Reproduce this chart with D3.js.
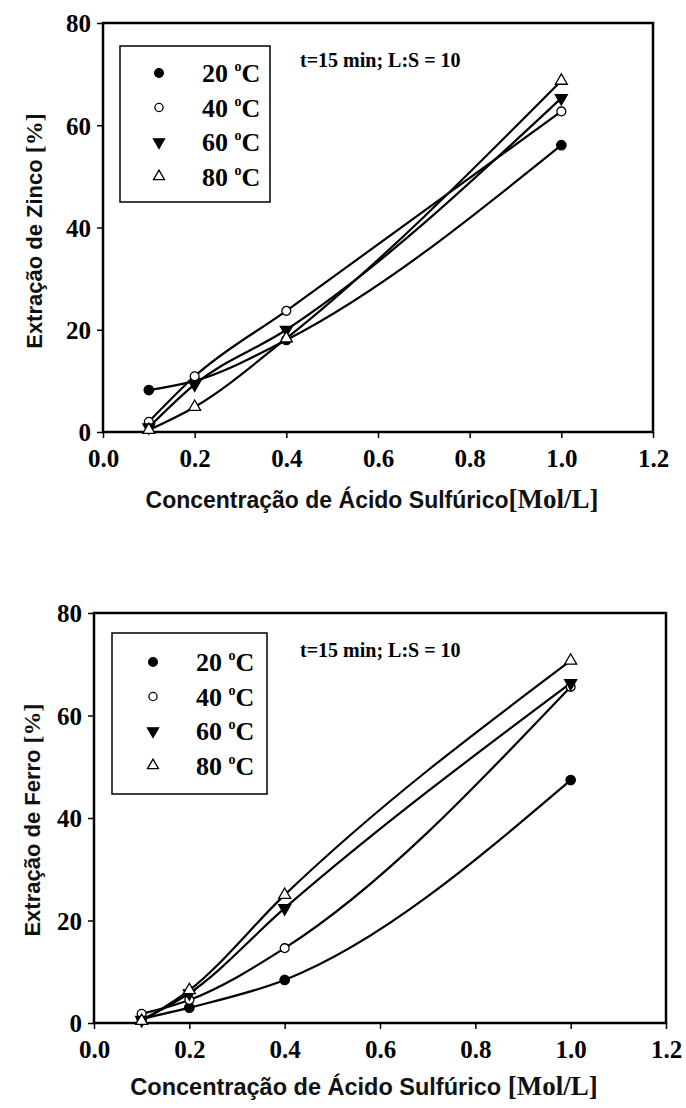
<!DOCTYPE html>
<html>
<head>
<meta charset="utf-8">
<script src="https://cdn.jsdelivr.net/npm/d3@7"></script>
<style>
  body { margin: 0; background: #fff; }
  svg { display: block; }
</style>
</head>
<body>
<script>
// concentration of sulfuric acid (Mol/L)
var concentracao = [0.1, 0.2, 0.4, 1.0];
var temperaturas = ["20", "40", "60", "80"];

// zinc extraction [%]
var zinco20 = [8.2, 10.0, 18.0, 56.1];
var zinco40 = [2.0, 10.9, 23.7, 62.7];
var zinco60 = [0.9, 9.3, 20.0, 65.3];
var zinco80 = [0.4, 4.9, 18.3, 68.7];

// iron extraction [%]
var ferro20 = [0.8, 3.0, 8.4, 47.4];
var ferro40 = [1.8, 4.5, 14.6, 65.6];
var ferro60 = [0.6, 5.8, 22.4, 66.3];
var ferro80 = [0.4, 6.4, 25.0, 70.7];

var xTicks = [0.0, 0.2, 0.4, 0.6, 0.8, 1.0, 1.2];
var yTicks = [0, 20, 40, 60, 80];
var nota = "t=15 min; L:S = 10";

var W = 686, H = 1108;
var serif = "'Liberation Serif', 'Times New Roman', serif";
var sans = "'Liberation Sans', Arial, sans-serif";

var svg = d3.select("body").append("svg")
    .attr("width", W)
    .attr("height", H);

svg.append("rect").attr("width", W).attr("height", H).attr("fill", "#fff");

// one symbol per temperature
var markers = [
    { type: d3.symbolCircle, size: 70, fill: "#000", rot: 0 },
    { type: d3.symbolCircle, size: 62, fill: "#fff", rot: 0 },
    { type: d3.symbolTriangle, size: 62, fill: "#000", rot: 180 },
    { type: d3.symbolTriangle, size: 62, fill: "#fff", rot: 0 }
];

function drawPanel(p) {
    var g = svg.append("g");

    var x = d3.scaleLinear().domain([0, 1.2]).range([p.left, p.right]);
    var y = d3.scaleLinear().domain([0, 80]).range([p.bottom, p.top]);

    // frame
    g.append("rect")
        .attr("x", p.left).attr("y", p.top)
        .attr("width", p.right - p.left).attr("height", p.bottom - p.top)
        .attr("fill", "none").attr("stroke", "#000").attr("stroke-width", 2.5);

    var xAxis = g.append("g")
        .attr("transform", "translate(0," + p.bottom + ")")
        .call(d3.axisBottom(x).tickValues(xTicks).tickFormat(d3.format(".1f")).tickSize(6).tickPadding(8));
    var yAxis = g.append("g")
        .attr("transform", "translate(" + p.left + ",0)")
        .call(d3.axisLeft(y).tickValues(yTicks).tickSize(6).tickPadding(6));

    [xAxis, yAxis].forEach(function(a) {
        a.select(".domain").remove();
        a.selectAll("line").attr("stroke", "#000").attr("stroke-width", 1.5);
        a.selectAll("text")
            .attr("fill", "#000")
            .style("font-family", serif)
            .style("font-weight", "bold")
            .style("font-size", "25px");
    });
    xAxis.selectAll("text").attr("dy", "0.82em");
    yAxis.selectAll("text").attr("dy", "0.35em");

    // series
    var line = d3.line()
        .x(function(d) { return x(d[0]); })
        .y(function(d) { return y(d[1]); })
        .curve(d3.curveMonotoneX);

    p.series.forEach(function(vals, i) {
        var pts = concentracao.map(function(c, j) { return [c, vals[j]]; });
        g.append("path")
            .datum(pts)
            .attr("d", line)
            .attr("fill", "none")
            .attr("stroke", "#000")
            .attr("stroke-width", 2.2);
    });

    p.series.forEach(function(vals, i) {
        var m = markers[i];
        var pts = concentracao.map(function(c, j) { return [c, vals[j]]; });
        g.selectAll(null)
            .data(pts)
            .enter()
            .append("path")
            .attr("d", d3.symbol().type(m.type).size(m.size))
            .attr("transform", function(d) {
                return "translate(" + x(d[0]) + "," + y(d[1]) + ") rotate(" + m.rot + ")";
            })
            .attr("fill", m.fill)
            .attr("stroke", "#000")
            .attr("stroke-width", 1.3);
    });

    // legend
    var L = p.legend;
    g.append("rect")
        .attr("x", L.x).attr("y", L.y).attr("width", L.w).attr("height", L.h)
        .attr("fill", "#fff").attr("stroke", "#000").attr("stroke-width", 1.5);

    temperaturas.forEach(function(t, i) {
        var m = markers[i];
        var ry = L.y + L.row0 + i * L.step;
        g.append("path")
            .attr("d", d3.symbol().type(m.type).size(m.size * 0.85))
            .attr("transform", "translate(" + L.mx + "," + ry + ") rotate(" + m.rot + ")")
            .attr("fill", m.fill)
            .attr("stroke", "#000")
            .attr("stroke-width", 1.3);
        var txt = g.append("text")
            .attr("x", L.tx).attr("y", ry + 9)
            .style("font-family", serif)
            .style("font-weight", "bold")
            .style("font-size", "26px");
        txt.append("tspan").text(t + " ");
        txt.append("tspan").attr("dy", -11).style("font-size", "14px").text("o");
        txt.append("tspan").attr("dy", 11).text("C");
    });

    g.append("text")
        .attr("x", p.noteX).attr("y", p.noteY)
        .style("font-family", serif)
        .style("font-weight", "bold")
        .style("font-size", "20px")
        .text(nota);

    // axis titles
    var yt = g.append("text")
        .attr("transform", "translate(" + p.yTitleX + "," + p.yTitleY + ") rotate(-90)")
        .attr("text-anchor", "middle")
        .style("font-size", "22px")
        .style("font-weight", "bold")
        .attr("fill", "#111");
    yt.append("tspan").style("font-family", sans).text(p.yTitle + " ");
    yt.append("tspan").style("font-family", serif).style("font-size", "24px").text("[%]");

    var xt = g.append("text")
        .attr("x", p.xTitleX).attr("y", p.xTitleY)
        .attr("text-anchor", "middle")
        .style("font-size", p.xTitleSize)
        .style("font-weight", "bold")
        .attr("fill", "#111");
    xt.append("tspan").style("font-family", sans).text("Concentração de Ácido Sulfúrico" + p.xGap);
    xt.append("tspan").style("font-family", serif).style("font-size", "27px").text("[Mol/L]");
}

drawPanel({
    left: 103, right: 653, top: 23, bottom: 432,
    series: [zinco20, zinco40, zinco60, zinco80],
    legend: { x: 120, y: 46, w: 150, h: 156, row0: 27, step: 34.5, mx: 159, tx: 202 },
    noteX: 300, noteY: 67,
    yTitle: "Extração de Zinco", yTitleX: 42, yTitleY: 231,
    xTitleX: 372, xTitleY: 508, xGap: "", xTitleSize: "23px"
});

drawPanel({
    left: 94, right: 666, top: 613, bottom: 1023,
    series: [ferro20, ferro40, ferro60, ferro80],
    legend: { x: 112, y: 633, w: 155, h: 161, row0: 29, step: 34.5, mx: 153, tx: 196 },
    noteX: 300, noteY: 657,
    yTitle: "Extração de Ferro", yTitleX: 40, yTitleY: 820,
    xTitleX: 364, xTitleY: 1095, xGap: " ", xTitleSize: "23.5px"
});
</script>
</body>
</html>
